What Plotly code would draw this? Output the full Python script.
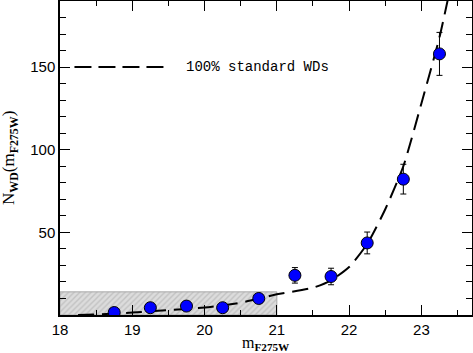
import plotly.graph_objects as go

# observed white dwarf counts per magnitude bin
mag_bins = [18.75, 19.25, 19.75, 20.25, 20.75, 21.25, 21.75, 22.25, 22.75, 23.25]
n_wd = [1.5, 4.4, 5.4, 4.4, 10, 24, 23.3, 43.6, 82.2, 158]
n_wd_err = [1, 1.5, 1.5, 1.5, 2, 4.7, 5, 6.6, 9, 13]

# model: 100% standard WDs
model_mag = [18.25, 18.5, 19.0, 19.5, 20.0, 20.5, 21.0, 21.5, 21.75, 22.0, 22.25, 22.5, 22.75, 23.0, 23.25, 23.4]
model_n = [0, 0.3, 1.5, 3.0, 4.5, 7.5, 12.5, 16.5, 21, 29, 43, 64, 90, 128, 168, 198]

# incompleteness-shaded region
shade_mag = [18, 21]
shade_n = 14

fig = go.Figure()

fig.add_trace(go.Scatter(
    x=[shade_mag[0], shade_mag[1], shade_mag[1], shade_mag[0], shade_mag[0]],
    y=[0, 0, shade_n, shade_n, 0],
    fill='toself', mode='lines',
    line=dict(color='#a8a8a8', width=1),
    fillcolor='#dcdcdc',
    fillpattern=dict(shape='/', bgcolor='#dcdcdc', fgcolor='#a8a8a8', size=4, solidity=0.35),
    hoverinfo='skip', showlegend=False,
))

fig.add_trace(go.Scatter(
    x=model_mag, y=model_n, mode='lines', line_shape='spline',
    line=dict(color='black', width=2, dash='16px,8px', smoothing=0.6),
    showlegend=False,
))

fig.add_trace(go.Scatter(
    x=mag_bins, y=n_wd, mode='markers',
    marker=dict(size=12, color='#0000ff', line=dict(color='black', width=1)),
    error_y=dict(type='data', array=n_wd_err, color='black', thickness=1, width=3),
    showlegend=False,
))

# hand-drawn legend
fig.add_trace(go.Scatter(
    x=[18.2, 19.5], y=[150, 150], mode='lines',
    line=dict(color='black', width=2, dash='17px,7px'),
    showlegend=False, hoverinfo='skip',
))
fig.add_annotation(
    x=19.72, y=150, text='100% standard WDs', showarrow=False,
    xanchor='left', yanchor='middle',
    font=dict(family='Liberation Mono', size=14, color='black'),
)

# axis titles
fig.add_annotation(
    xref='paper', yref='paper', x=0.5, y=0, yanchor='top', yshift=-17,
    text='m<sub><b>F275W</b></sub>', showarrow=False,
    font=dict(family='Liberation Serif', size=16, color='black'),
)
fig.add_annotation(
    xref='paper', yref='paper', x=0, y=0.5, xanchor='center', xshift=-50,
    textangle=-90, text='N<sub><b>WD</b></sub>(m<sub><b>F275W</b></sub>)', showarrow=False,
    font=dict(family='Liberation Serif', size=17, color='black'),
)

axis_common = dict(
    showline=True, linecolor='black', linewidth=1.5, mirror='allticks',
    ticks='inside', ticklen=10, tickwidth=1.2, tickcolor='black',
    showgrid=False, zeroline=False, automargin=False,
    tickfont=dict(family='Liberation Sans', size=15, color='black'),
)

fig.update_xaxes(
    range=[18, 23.7], tick0=18, dtick=1,
    minor=dict(dtick=0.5, ticks='inside', ticklen=5, tickcolor='black'),
    **axis_common,
)
fig.update_yaxes(
    range=[0, 190], tickvals=[50, 100, 150],
    minor=dict(dtick=10, ticks='inside', ticklen=6, tickcolor='black'),
    **axis_common,
)

fig.update_layout(
    width=473, height=353,
    margin=dict(l=60, r=1, t=1, b=38),
    plot_bgcolor='white', paper_bgcolor='white',
)

fig.write_html("out.html", config={'displayModeBar': False},
               post_script="document.body.style.margin='0';")
